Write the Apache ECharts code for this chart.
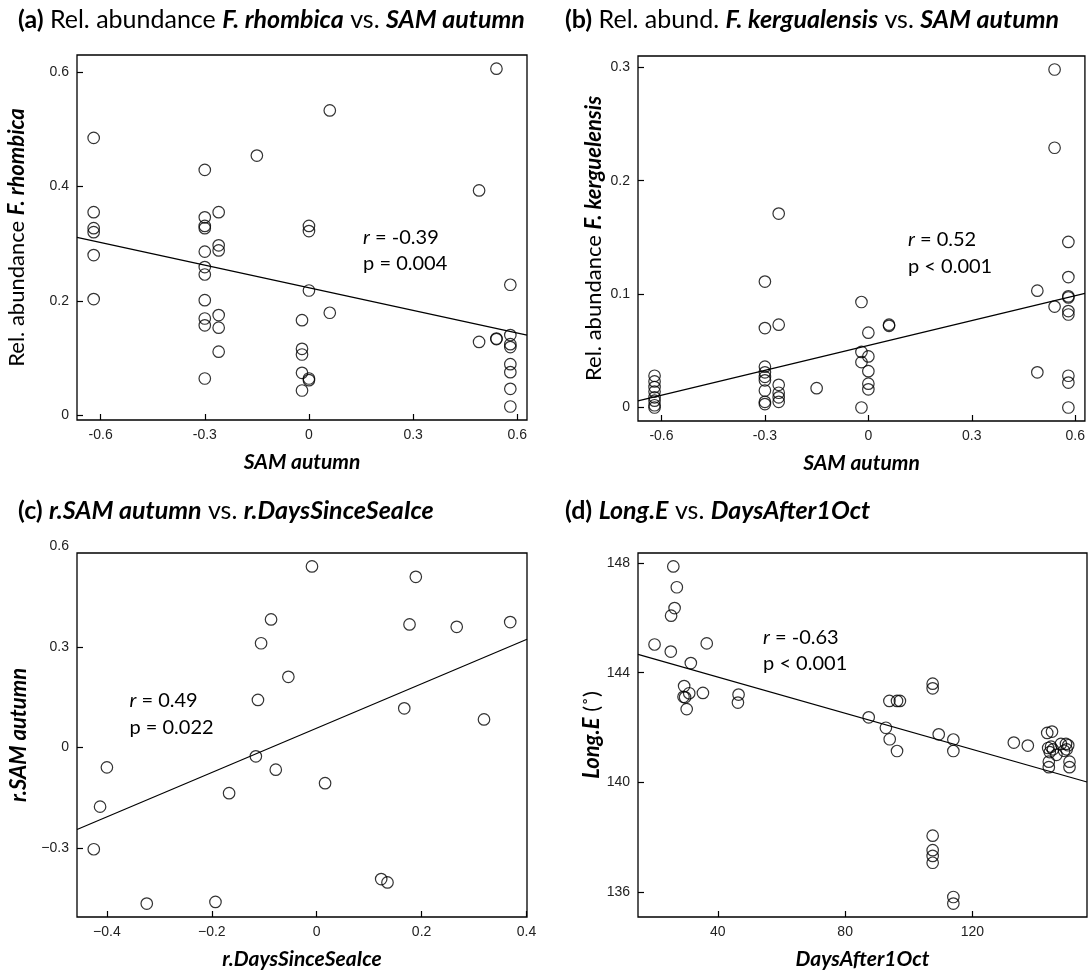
<!DOCTYPE html>
<html><head><meta charset="utf-8">
<script src="https://cdn.jsdelivr.net/npm/echarts@6.0.0/dist/echarts.min.js"></script>
<style>html,body{margin:0;padding:0;background:#fff}#c{width:1088px;height:971px}</style>
</head><body><div id="c"></div>
<script>
// ---------------- DATA ----------------
// (a) Rel. abundance F. rhombica vs SAM autumn
const aX = [-0.62,-0.62,-0.62,-0.62,-0.62,-0.62,
  -0.30,-0.30,-0.30,-0.30,-0.30,-0.30,-0.30,-0.30,-0.30,-0.30,-0.30,
  -0.26,-0.26,-0.26,-0.26,-0.26,-0.26,
  -0.15,
  -0.02,-0.02,-0.02,-0.02,-0.02,
  0,0,0,0,0,
  0.06,0.06,
  0.49,0.49,
  0.54,0.54,0.54,
  0.58,0.58,0.58,0.58,0.58,0.58,0.58,0.58];
const aY = [0.485,0.355,0.327,0.320,0.280,0.203,
  0.429,0.346,0.331,0.327,0.286,0.259,0.246,0.201,0.169,0.157,0.064,
  0.355,0.297,0.288,0.175,0.153,0.111,
  0.454,
  0.166,0.116,0.106,0.074,0.043,
  0.331,0.322,0.218,0.064,0.061,
  0.533,0.179,
  0.393,0.128,
  0.606,0.134,0.133,
  0.228,0.140,0.124,0.119,0.089,0.075,0.046,0.015];
const aFit = [[-0.668, 0.311], [0.628, 0.140]];

// (b) Rel. abundance F. kerguelensis vs SAM autumn
const bX = [-0.62,-0.62,-0.62,-0.62,-0.62,-0.62,-0.62,-0.62,
  -0.30,-0.30,-0.30,-0.30,-0.30,-0.30,-0.30,-0.30,-0.30,
  -0.26,-0.26,-0.26,-0.26,-0.26,-0.26,
  -0.15,
  -0.02,-0.02,-0.02,-0.02,
  0,0,0,0,0,
  0.06,0.06,
  0.49,0.49,
  0.54,0.54,0.54,
  0.58,0.58,0.58,0.58,0.58,0.58,0.58,0.58,0.58];
const bY = [0.028,0.023,0.018,0.014,0.009,0.006,0.002,0.000,
  0.111,0.070,0.036,0.031,0.027,0.024,0.015,0.005,0.003,
  0.171,0.073,0.020,0.013,0.009,0.005,
  0.017,
  0.093,0.049,0.040,0.000,
  0.066,0.045,0.032,0.021,0.016,
  0.073,0.072,
  0.103,0.031,
  0.298,0.229,0.089,
  0.146,0.115,0.098,0.097,0.085,0.082,0.028,0.022,0.000];
const bFit = [[-0.668, 0.0058], [0.628, 0.1006]];

// (c) r.SAM autumn vs r.DaysSinceSeaIce
const cX = [-0.009,0.189,-0.087,-0.106,0.177,0.267,0.369,-0.054,-0.112,0.167,0.319,
  -0.116,-0.400,-0.078,0.016,-0.167,-0.413,-0.425,0.123,0.135,-0.324,-0.193];
const cY = [0.540,0.509,0.382,0.311,0.367,0.360,0.374,0.211,0.142,0.117,0.084,
  -0.026,-0.059,-0.066,-0.106,-0.136,-0.176,-0.303,-0.392,-0.402,-0.465,-0.460];
const cFit = [[-0.457, -0.244], [0.401, 0.323]];

// (d) Long.E vs DaysAfter1Oct
const dX = [26.0,27.1,26.4,25.3,20.1,25.2,36.5,31.5,29.4,29.2,29.7,31.0,30.2,35.3,46.5,46.3,
  87.4,92.8,94.0,96.3,93.9,96.3,97.2,107.5,107.5,109.4,114.0,114.0,133.0,137.4,
  143.5,145.0,143.8,144.7,145.3,144.3,146.4,147.8,149.4,150.1,148.8,149.6,144.0,144.0,150.5,150.5,
  107.5,107.5,107.5,107.5,114.0,114.0];
const dY = [147.88,147.12,146.36,146.08,145.03,144.77,145.07,144.35,143.51,143.12,143.10,143.25,142.67,143.26,143.20,142.91,
  142.37,141.99,141.57,141.14,142.97,142.97,142.97,143.60,143.43,141.75,141.56,141.14,141.45,141.34,
  141.80,141.85,141.25,141.30,141.20,141.10,141.00,141.40,141.40,141.35,141.15,141.20,140.75,140.55,140.75,140.55,
  138.05,137.52,137.31,137.06,135.81,135.57];
const dFit = [[14.9, 144.67], [156.0, 140.01]];

// tick labels
const samTicks = [-0.6, -0.3, 0, 0.3, 0.6];
const aYTicks = [0, 0.2, 0.4, 0.6];
const bYTicks = [0, 0.1, 0.2, 0.3];
const cXTicks = [-0.4, -0.2, 0, 0.2, 0.4];
const cYTicks = [-0.3, 0, 0.3];
const cYExtraTick = 0.6;
const dXTicks = [40, 80, 120];
const dYTicks = [136, 140, 144, 148];

// statistics text
const statsA = ['-0.39', 'p = 0.004'];
const statsB = ['0.52', 'p < 0.001'];
const statsC = ['0.49', 'p = 0.022'];
const statsD = ['-0.63', 'p < 0.001'];

// ---------------- CHART ----------------
const TXT = 'Lato, "Open Sans", sans-serif';
const TICK = '"Liberation Sans", Arial, sans-serif';
const TS = 25;
const rich = {
  b: {fontFamily: TXT, fontWeight: 'bold', fontSize: TS, color: '#000'},
  n: {fontFamily: TXT, fontWeight: 'normal', fontSize: TS, color: '#000'},
  bi: {fontFamily: TXT, fontWeight: 'bold', fontStyle: 'italic', fontSize: TS, color: '#000'}
};
const NS = 22;
const nameRich = {
  n: {fontFamily: TXT, fontWeight: 'normal', fontSize: NS, color: '#000'},
  bi: {fontFamily: TXT, fontWeight: 'bold', fontStyle: 'italic', fontSize: NS, color: '#000'}
};

const grids = [
  {left: 77, top: 55, width: 450, height: 365},
  {left: 638, top: 56, width: 449, height: 365},
  {left: 77, top: 553, width: 450, height: 370},
  {left: 638, top: 553, width: 449, height: 370}
].map(g => Object.assign({show: true, borderColor: '#000', borderWidth: 1.3, backgroundColor: 'transparent'}, g));

const fmtHyphen = v => (Math.round(v * 1000) / 1000).toString();
const fmtMinus = v => { const s = (Math.round(Math.abs(v) * 1000) / 1000).toString(); return v < 0 ? '\u2212' + s : s; };

function axis(gi, min, max, ticks, fmt, extra) {
  return Object.assign({
    type: 'value', gridIndex: gi, min: min, max: max,
    axisLine: {show: false, onZero: false},
    splitLine: {show: false},
    axisTick: {show: true, inside: true, length: 6, customValues: ticks, lineStyle: {color: '#000', width: 1.2}},
    axisLabel: {customValues: ticks, formatter: fmt, color: '#222', fontFamily: TICK, fontSize: 14, margin: 8}
  }, extra || {});
}
const xName = (name) => ({name: name, nameLocation: 'middle', nameGap: 32,
  nameTextStyle: {fontFamily: TXT, fontWeight: 'bold', fontStyle: 'italic', fontSize: 21, color: '#000'}});
const yName = (name, gap) => ({name: name, nameLocation: 'middle', nameRotate: 90, nameGap: gap,
  nameTextStyle: {fontFamily: TXT, fontSize: NS, color: '#000', rich: nameRich}});

const xAxes = [
  axis(0, -0.668, 0.628, samTicks, fmtHyphen, xName('SAM autumn')),
  axis(1, -0.668, 0.628, samTicks, fmtHyphen, xName('SAM autumn')),
  axis(2, -0.457, 0.401, cXTicks, fmtMinus, xName('r.DaysSinceSeaIce')),
  axis(3, 14.9, 156.0, dXTicks, fmtHyphen, xName('DaysAfter1Oct'))
];
const yAxes = [
  axis(0, -0.0086, 0.630, aYTicks, fmtHyphen, yName('{n|Rel. abundance }{bi|F. rhombica}', 49)),
  axis(1, -0.0119, 0.3099, bYTicks, fmtHyphen, yName('{n|Rel. abundance }{bi|F. kerguelensis}', 33)),
  axis(2, -0.505, 0.580, cYTicks, fmtMinus, yName('{bi|r.SAM autumn}', 47)),
  axis(3, 135.08, 148.37, dYTicks, fmtHyphen, yName('{bi|Long.E}{n| (\u02DA)}', 35))
];

const scat = (i, xs, ys) => ({
  type: 'scatter', xAxisIndex: i, yAxisIndex: i, silent: true,
  data: xs.map((x, k) => [x, ys[k]]),
  symbol: 'circle', symbolSize: 11.5,
  itemStyle: {color: 'rgba(0,0,0,0)', borderColor: '#000', borderWidth: 1.2}
});
const fit = (i, pts) => ({
  type: 'line', xAxisIndex: i, yAxisIndex: i, silent: true, data: pts,
  showSymbol: false, symbol: 'none', lineStyle: {color: '#000', width: 1.2}, clip: true
});

const titles = [
  {text: '{b|(a)}{n| Rel. abundance }{bi|F. rhombica}{n| vs. }{bi|SAM autumn}', left: 13, top: 2},
  {text: '{b|(b)}{n| Rel. abund. }{bi|F. kergualensis}{n| vs. }{bi|SAM autumn}', left: 560, top: 2},
  {text: '{b|(c)}{n| }{bi|r.SAM autumn}{n| vs. }{bi|r.DaysSinceSeaIce}', left: 13, top: 493},
  {text: '{b|(d)}{n| }{bi|Long.E}{n| vs. }{bi|DaysAfter1Oct}', left: 560, top: 493}
].map(t => Object.assign({textStyle: {rich: rich}}, t));

const chart = echarts.init(document.getElementById('c'), null, {renderer: 'canvas'});
chart.setOption({
  animation: false,
  backgroundColor: '#fff',
  title: titles,
  grid: grids,
  xAxis: xAxes,
  yAxis: yAxes,
  series: [
    scat(0, aX, aY), fit(0, aFit),
    scat(1, bX, bY), fit(1, bFit),
    scat(2, cX, cY), fit(2, cFit),
    scat(3, dX, dY), fit(3, dFit)
  ]
});

// annotations positioned in data coordinates
const annos = [
  {g: 0, x: 0.156, y1: 0.311, y2: 0.266, s: statsA},
  {g: 1, x: 0.115, y1: 0.1485, y2: 0.124, s: statsB},
  {g: 2, x: -0.357, y1: 0.14, y2: 0.06, s: statsC},
  {g: 3, x: 54.2, y1: 145.27, y2: 144.32, s: statsD}
];
const AS = 20;
const ann = {fontFamily: TXT, fontSize: AS, color: '#000'};
const graphics = [];
annos.forEach(a => {
  const p1 = chart.convertToPixel({gridIndex: a.g}, [a.x, a.y1]);
  const p2 = chart.convertToPixel({gridIndex: a.g}, [a.x, a.y2]);
  graphics.push({type: 'text', x: p1[0], y: p1[1], style: {
    text: '{i|r}{t| = ' + a.s[0] + '}', verticalAlign: 'middle', align: 'left',
    rich: {i: Object.assign({fontStyle: 'italic'}, ann), t: ann}}});
  graphics.push({type: 'text', x: p2[0], y: p2[1], style: {
    text: a.s[1], verticalAlign: 'middle', align: 'left', font: AS + 'px ' + TXT, fill: '#000'}});
});
// panel (c): the 0.6 label sits just above the frame
const p06 = chart.convertToPixel({gridIndex: 2}, [-0.457, cYExtraTick]);
graphics.push({type: 'text', x: p06[0] - 8, y: p06[1], style: {
  text: fmtMinus(cYExtraTick), align: 'right', verticalAlign: 'middle', fill: '#222', font: '14px ' + TICK}});
chart.setOption({graphic: graphics});
</script></body></html>
